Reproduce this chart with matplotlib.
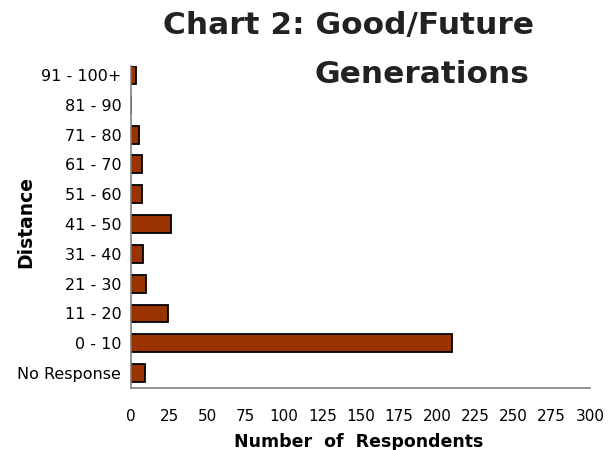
import matplotlib
matplotlib.use("Agg")
import matplotlib.pyplot as plt

categories = ["No Response", "0 - 10", "11 - 20", "21 - 30", "31 - 40", "41 - 50",
              "51 - 60", "61 - 70", "71 - 80", "81 - 90", "91 - 100+"]
values = [9, 210, 24, 10, 8, 26, 7, 7, 5, 0, 3]
xticks = [0, 25, 50, 75, 100, 125, 150, 175, 200, 225, 250, 275, 300]

plt.rcParams['font.family'] = ['DejaVu Sans']

W, H = 608, 450
fig = plt.figure(figsize=(W / 100, H / 100), dpi=100)
left, right, bottom, top = 131, 590, 388, 66
ax = fig.add_axes([left / W, 1 - bottom / H, (right - left) / W, (bottom - top) / H])

y = list(range(len(categories)))
ax.barh(y, values, height=0.6, color="#993300", edgecolor="black", linewidth=1.3)
ax.set_ylim(-0.5, 10.3)
ax.set_xlim(0, 300)
ax.set_yticks(y)
ax.set_yticklabels(categories, fontsize=11.5)
ax.set_xticks(xticks)
ax.set_xticklabels([str(t) for t in xticks], fontsize=11)
ax.tick_params(axis='both', length=0)
ax.tick_params(axis='x', pad=15)
ax.tick_params(axis='y', pad=7)
for s in ["top", "right"]:
    ax.spines[s].set_visible(False)
for s in ["left", "bottom"]:
    ax.spines[s].set_color("#808080")
    ax.spines[s].set_linewidth(1.2)

ax.set_xlabel("Number  of  Respondents", fontsize=12.5, fontweight="bold")
ax.xaxis.set_label_coords((359 - left) / (right - left), (bottom - 433) / (bottom - top))
ax.set_ylabel("Distance", fontsize=13.5, fontweight="bold")
ax.yaxis.set_label_coords((35 - left) / (right - left), (bottom - 222) / (bottom - top))

fig.text(163 / W, 1 - 34 / H, "Chart 2: Good/Future", fontsize=22.5, fontweight="bold",
         color="#222222", ha="left", va="baseline")
fig.text(315 / W, 1 - 83 / H, "Generations", fontsize=22.5, fontweight="bold",
         color="#222222", ha="left", va="baseline")

fig.savefig("out.png", dpi=100)
